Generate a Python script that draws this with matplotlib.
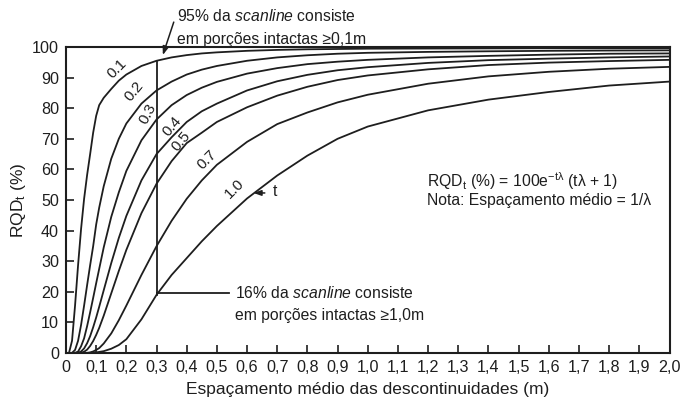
import matplotlib
matplotlib.use("Agg")
import matplotlib.pyplot as plt

plt.rcParams["font.family"] = ["Liberation Sans", "DejaVu Sans"]
plt.rcParams["mathtext.fontset"] = "custom"
plt.rcParams["mathtext.rm"] = "Liberation Sans"
plt.rcParams["mathtext.it"] = "Liberation Sans:italic"
plt.rcParams["mathtext.default"] = "regular"

# ---------------------------------------------------------------------------
# Dados: RQD_t (%) vs espaçamento médio (m), um vetor por t
# ---------------------------------------------------------------------------
espacamento = [0, 0.01, 0.02, 0.03, 0.04, 0.05, 0.06, 0.07, 0.08, 0.09, 0.1,
               0.11, 0.125, 0.15, 0.175, 0.2, 0.25, 0.3, 0.35, 0.4, 0.45, 0.5,
               0.6, 0.7, 0.8, 0.9, 1.0, 1.2, 1.4, 1.6, 1.8, 2.0]

rqd_t01 = [0, 0.05, 4.0, 15.5, 28.7, 40.6, 50.4, 58.2, 65.0, 72.0, 77.5,
           81.0, 83.4, 86.3, 89.0, 91.0, 93.8, 95.5, 96.6, 97.35, 97.9, 98.25,
           98.75, 99.05, 99.25, 99.35, 99.45, 99.5, 99.55, 99.6, 99.6, 99.6]
rqd_t02 = [0, 0, 0.05, 1.0, 4.0, 9.2, 15.5, 22.2, 28.7, 34.9, 42.0,
           47.5, 54.5, 63.5, 70.0, 75.0, 81.5, 85.8, 88.7, 91.0, 92.6, 93.8,
           95.5, 96.6, 97.3, 97.8, 98.1, 98.4, 98.6, 98.75, 98.85, 98.9]
rqd_t03 = [0, 0, 0, 0.05, 0.47, 2.2, 4.8, 8.8, 13.3, 18.0, 22.8,
           27.5, 34.5, 44.5, 52.5, 59.5, 69.5, 76.3, 81.0, 84.3, 86.7, 88.6,
           91.3, 93.1, 94.4, 95.2, 95.8, 96.6, 97.1, 97.5, 97.8, 97.9]
rqd_t04 = [0, 0, 0, 0, 0.05, 0.5, 1.5, 3.2, 5.5, 8.4, 11.6,
           15.1, 20.5, 29.4, 37.6, 44.8, 56.4, 65.0, 70.5, 75.5, 79.0, 81.5,
           85.8, 88.8, 90.9, 92.4, 93.4, 94.8, 95.7, 96.2, 96.6, 96.9]
rqd_t05 = [0, 0, 0, 0, 0, 0.1, 0.4, 1.1, 2.3, 3.9, 5.9,
           8.2, 12.2, 19.5, 26.8, 33.7, 45.7, 55.3, 62.7, 68.6, 72.0, 75.5,
           80.3, 84.1, 87.0, 89.2, 90.7, 92.7, 94.1, 94.9, 95.4, 95.8]
rqd_t07 = [0, 0, 0, 0, 0, 0, 0, 0.05, 0.2, 0.5, 1.0,
           1.6, 3.1, 6.4, 10.7, 15.5, 25.5, 34.9, 43.2, 50.4, 56.4, 61.5,
           69.0, 74.8, 78.6, 81.9, 84.4, 88.0, 90.4, 91.9, 92.9, 93.5]
rqd_t10 = [0, 0, 0, 0, 0, 0, 0, 0, 0.02, 0.1, 0.2,
           0.35, 0.6, 1.4, 2.6, 4.5, 11.0, 19.0, 25.5, 31.0, 36.5, 41.5,
           50.5, 58.0, 64.5, 70.0, 74.0, 79.3, 82.8, 85.3, 87.4, 88.7]

curvas = [rqd_t01, rqd_t02, rqd_t03, rqd_t04, rqd_t05, rqd_t07, rqd_t10]
rotulos_t = ["0.1", "0.2", "0.3", "0.4", "0.5", "0.7", "1.0"]
# posição (x, y) e rotação de cada rótulo de curva
rotulos_pos = [(0.170, 92.8), (0.226, 85.4), (0.270, 78.3), (0.353, 74.0),
               (0.383, 69.3), (0.468, 63.0), (0.560, 53.8)]
rotulos_rot = [45, 50, 62, 50, 50, 45, 45]

x_ticks = [i / 10 for i in range(21)]
x_ticklabels = ["0"] + [f"{v:.1f}".replace(".", ",") for v in x_ticks[1:]]
y_ticks = list(range(0, 101, 10))

cor = "#1e1e1e"
fs_txt = 11.3

# ---------------------------------------------------------------------------
# Figura
# ---------------------------------------------------------------------------
fig = plt.figure(figsize=(6.83, 4.07), dpi=100)
ax = fig.add_axes([66 / 683, 54 / 407, 603.5 / 683, 306 / 407])

for serie in curvas:
    ax.plot(espacamento, serie, color=cor, lw=1.3, solid_capstyle="round")

for txt, (px, py), rot in zip(rotulos_t, rotulos_pos, rotulos_rot):
    ax.text(px, py, txt, rotation=rot, fontsize=11, ha="center", va="center",
            color=cor, rotation_mode="anchor")

ax.set_xlim(0, 2.0)
ax.set_ylim(0, 100)
ax.set_xticks(x_ticks)
ax.set_xticklabels(x_ticklabels)
ax.set_yticks(y_ticks)
ax.tick_params(direction="in", length=6, width=1.2, labelsize=11.6, colors=cor,
               pad=5)
for sp in ax.spines.values():
    sp.set_linewidth(1.5)
    sp.set_color(cor)

ax.set_xlabel("Espaçamento médio das descontinuidades (m)", fontsize=12.5,
              color=cor, labelpad=5)
ax.set_ylabel("RQD$_\\mathregular{t}$ (%)", fontsize=12.5, color=cor,
              labelpad=3)

# linha vertical em 0,3 m e linha de chamada para 16%
ax.plot([0.3, 0.3], [19.0, 95.5], color=cor, lw=1.3)
ax.plot([0.3, 0.54], [19.5, 19.5], color=cor, lw=1.3)

ax.annotate("", xy=(0.318, 96.5), xytext=(0.36, 109), xycoords="data",
            annotation_clip=False,
            arrowprops=dict(arrowstyle="-|>,head_length=0.5,head_width=0.18",
                            color=cor, lw=1.1))
ax.text(0.368, 110, "95% da $\\mathit{scanline}$ consiste", fontsize=fs_txt,
        va="center", ha="left", color=cor, clip_on=False)
ax.text(0.368, 102.3, "em porções intactas ≥0,1m", fontsize=fs_txt,
        va="center", ha="left", color=cor, clip_on=False)

ax.text(0.56, 19.5, "16% da $\\mathit{scanline}$ consiste", fontsize=fs_txt,
        va="center", ha="left", color=cor)
ax.text(0.56, 12.3, "em porções intactas ≥1,0m", fontsize=fs_txt,
        va="center", ha="left", color=cor)

# seta "t"
ax.annotate("", xy=(0.612, 52.3), xytext=(0.668, 52.3),
            arrowprops=dict(arrowstyle="-|>,head_length=0.45,head_width=0.16",
                            color=cor, lw=1.1))
ax.text(0.685, 52.8, "t", fontsize=fs_txt, va="center", ha="left", color=cor)

ax.text(1.196, 56.0, "RQD$_\\mathregular{t}$ (%) = 100e$^{-t\\lambda}$ (t\u03bb + 1)",
        fontsize=fs_txt, va="center", ha="left", color=cor)
ax.text(1.196, 49.8, "Nota: Espaçamento médio = 1/\u03bb", fontsize=fs_txt,
        va="center", ha="left", color=cor)

fig.savefig("out.png", dpi=100)
